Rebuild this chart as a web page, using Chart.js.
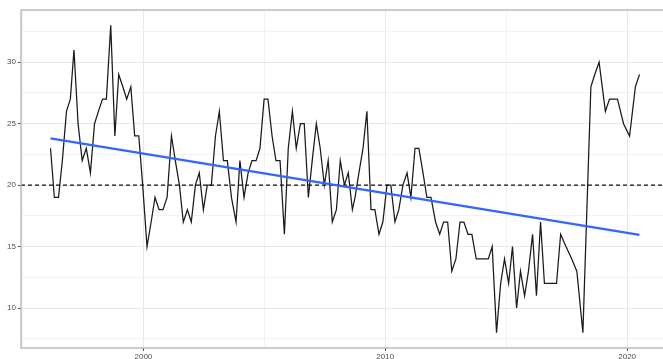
<!DOCTYPE html>
<html>
<head>
<meta charset="utf-8">
<script src="https://cdn.jsdelivr.net/npm/chart.js@4"></script>
<style>
  html, body { margin: 0; padding: 0; background: #fff; overflow: hidden; }
  #wrap { width: 663px; height: 359px; overflow: hidden; position: relative; }
  canvas { display: block; position: absolute; left: 0; top: 0; }
</style>
</head>
<body>
<div id="wrap"><canvas id="chart" width="700" height="359" style="width:700px;height:359px"></canvas></div>
<script>
// Observation dates (decimal years) and observed values
const years = [
  1996.16, 1996.32, 1996.49, 1996.65, 1996.82, 1996.98, 1997.13, 1997.30, 1997.47, 1997.64,
  1997.81, 1997.98, 1998.14, 1998.31, 1998.47, 1998.65, 1998.82, 1998.98, 1999.15, 1999.31,
  1999.48, 1999.64, 1999.81, 1999.97, 2000.15, 2000.32, 2000.48, 2000.65, 2000.81, 2000.98,
  2001.16, 2001.32, 2001.49, 2001.65, 2001.82, 2001.98, 2002.15, 2002.31, 2002.48, 2002.64,
  2002.81, 2002.98, 2003.14, 2003.31, 2003.47, 2003.64, 2003.83, 2003.99, 2004.16, 2004.33,
  2004.49, 2004.66, 2004.82, 2004.99, 2005.15, 2005.32, 2005.48, 2005.65, 2005.83, 2005.99,
  2006.16, 2006.32, 2006.49, 2006.65, 2006.82, 2006.98, 2007.15, 2007.31, 2007.48, 2007.64,
  2007.81, 2007.98, 2008.14, 2008.31, 2008.47, 2008.64, 2008.75, 2008.91, 2009.08, 2009.24,
  2009.41, 2009.57, 2009.74, 2009.90, 2010.07, 2010.23, 2010.40, 2010.56, 2010.73, 2010.90,
  2011.06, 2011.23, 2011.39, 2011.56, 2011.72, 2011.89, 2012.08, 2012.25, 2012.41, 2012.58,
  2012.75, 2012.92, 2013.09, 2013.25, 2013.42, 2013.58, 2013.76, 2013.93, 2014.09, 2014.26,
  2014.42, 2014.60, 2014.77, 2014.93, 2015.10, 2015.26, 2015.43, 2015.59, 2015.76, 2015.92,
  2016.09, 2016.25, 2016.42, 2016.58, 2016.75, 2016.91, 2017.08, 2017.25, 2017.47, 2017.71,
  2017.92, 2018.17, 2018.50, 2018.66, 2018.84, 2019.10, 2019.27, 2019.44, 2019.60, 2019.85,
  2020.10, 2020.34, 2020.51
];
const values = [
  23, 19, 19, 22, 26, 27, 31, 25, 22, 23,
  21, 25, 26, 27, 27, 33, 24, 29, 28, 27,
  28, 24, 24, 20, 15, 17, 19, 18, 18, 19,
  24, 22, 20, 17, 18, 17, 20, 21, 18, 20,
  20, 24, 26, 22, 22, 19, 17, 22, 19, 21,
  22, 22, 23, 27, 27, 24, 22, 22, 16, 23,
  26, 23, 25, 25, 19, 22, 25, 23, 20, 22,
  17, 18, 22, 20, 21, 18, 19, 21, 23, 26,
  18, 18, 16, 17, 20, 20, 17, 18, 20, 21,
  19, 23, 23, 21, 19, 19, 17, 16, 17, 17,
  13, 14, 17, 17, 16, 16, 14, 14, 14, 14,
  15, 8, 12, 14, 12, 15, 10, 13, 11, 13,
  16, 11, 17, 12, 12, 12, 12, 16, 15, 14,
  13, 8, 28, 29, 30, 26, 27, 27, 27, 25,
  24, 28, 29
];

// Linear trend (start and end of the fitted line)
const trendYears = [1996.16, 2020.51];
const trendValues = [23.8, 15.95];

// Horizontal reference level
const referenceLevel = 20;

// Axis ranges and ticks
const xRange = [1994.94, 2021.73];
const yRange = [6.75, 34.25];
const xTicks = [1995, 2000, 2005, 2010, 2015, 2020];
const xLabels = [2000, 2010, 2020];
const yTicks = [7.5, 10, 12.5, 15, 17.5, 20, 22.5, 25, 27.5, 30, 32.5];
const yLabels = [10, 15, 20, 25, 30];

const seriesPoints = years.map((y, i) => ({ x: y, y: values[i] }));
const trendPoints = trendYears.map((y, i) => ({ x: y, y: trendValues[i] }));
const refPoints = xRange.map(x => ({ x: x, y: referenceLevel }));

const MAJOR_GRID = '#e8e8e8';
const MINOR_GRID = '#f2f2f2';
const TICK_COLOR = '#4d4d4d';
const tickFont = { family: '"Liberation Sans", Arial, sans-serif', size: 8 };

function gridFor(labels) {
  return {
    drawTicks: true,
    tickLength: 3,
    lineWidth: 1,
    color: c => (c.tick && labels.includes(c.tick.value)) ? MAJOR_GRID : MINOR_GRID,
    tickColor: c => (c.tick && labels.includes(c.tick.value)) ? '#555' : 'rgba(0,0,0,0)',
    tickWidth: 1
  };
}

// Rectangle round the plotting panel
const panelBorder = {
  id: 'panelBorder',
  afterDraw(chart) {
    const { ctx, chartArea: a } = chart;
    ctx.save();
    ctx.strokeStyle = '#b3b3b3';
    ctx.lineWidth = 1.3;
    ctx.strokeRect(a.left, a.top, a.right - a.left, a.bottom - a.top);
    ctx.restore();
  }
};

new Chart(document.getElementById('chart'), {
  type: 'line',
  data: {
    datasets: [
      {
        data: trendPoints,
        borderColor: '#3366ff',
        borderWidth: 2.4,
        pointRadius: 0,
        tension: 0,
        order: 0
      },
      {
        data: refPoints,
        borderColor: '#111',
        borderWidth: 1.1,
        borderDash: [4, 3],
        pointRadius: 0,
        tension: 0,
        order: 1
      },
      {
        data: seriesPoints,
        borderColor: '#1a1a1a',
        borderWidth: 1.25,
        pointRadius: 0,
        tension: 0,
        order: 2
      }
    ]
  },
  options: {
    responsive: false,
    animation: false,
    events: [],
    layout: { padding: { left: 0, top: 10, right: 31, bottom: 0 } },
    plugins: { legend: { display: false }, tooltip: { enabled: false } },
    scales: {
      x: {
        type: 'linear',
        min: xRange[0],
        max: xRange[1],
        afterBuildTicks: s => { s.ticks = xTicks.map(v => ({ value: v })); },
        afterFit: s => { s.height = 11; },
        border: { display: false },
        grid: gridFor(xLabels),
        ticks: {
          autoSkip: false,
          maxRotation: 0,
          padding: 1,
          color: TICK_COLOR,
          font: tickFont,
          callback: v => xLabels.includes(v) ? String(v) : ''
        }
      },
      y: {
        type: 'linear',
        min: yRange[0],
        max: yRange[1],
        afterBuildTicks: s => { s.ticks = yTicks.map(v => ({ value: v })); },
        afterFit: s => { s.width = 21; },
        border: { display: false },
        grid: gridFor(yLabels),
        ticks: {
          autoSkip: false,
          padding: 2,
          color: TICK_COLOR,
          font: tickFont,
          callback: v => yLabels.includes(v) ? String(v) : ''
        }
      }
    }
  },
  plugins: [panelBorder]
});
</script>
</body>
</html>
